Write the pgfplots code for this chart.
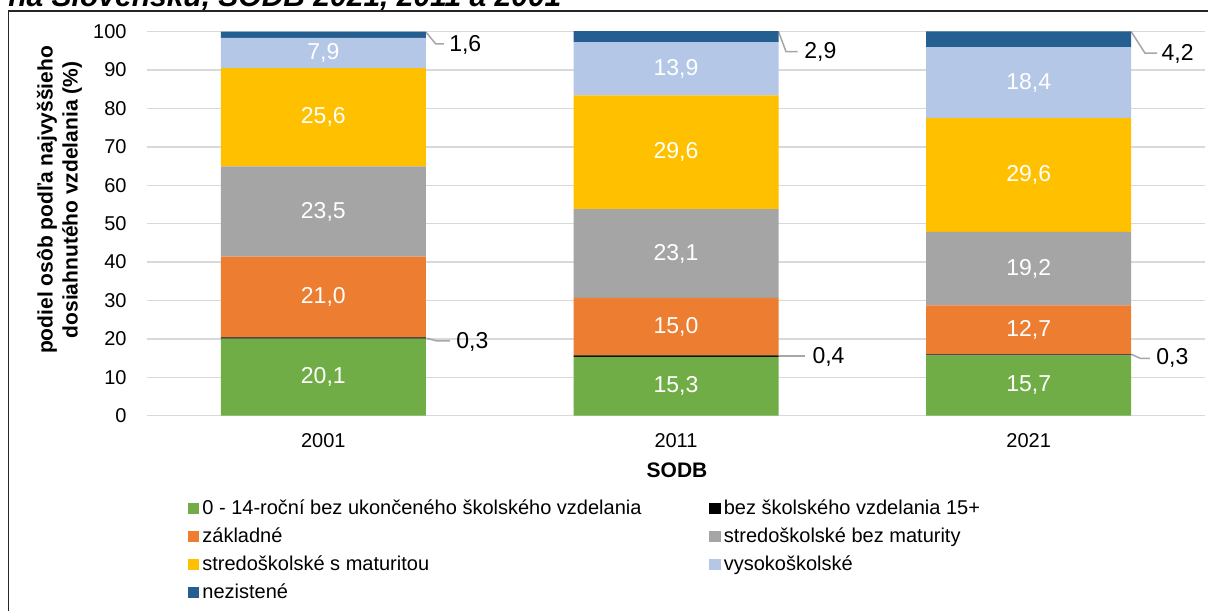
\documentclass[border=0pt]{standalone}
\usepackage{fontspec}
\setmainfont{Liberation Sans}
\usepackage{pgfplots}
\pgfplotsset{compat=1.18}
\definecolor{cgreen}{HTML}{70AD47}
\definecolor{corange}{HTML}{ED7D31}
\definecolor{cgray}{HTML}{A5A5A5}
\definecolor{cyellow}{HTML}{FFC000}
\definecolor{clblue}{HTML}{B4C7E7}
\definecolor{cdblue}{HTML}{255E91}
\definecolor{gridgray}{HTML}{D9D9D9}
\definecolor{leadgray}{HTML}{A6A6A6}
\begin{document}
\begin{tikzpicture}
\useasboundingbox (0,0) rectangle (604pt,305pt);
\clip (0,0) rectangle (604pt,305pt);
\fill[white] (0,0) rectangle (604pt,305pt);
\node[anchor=base west, inner sep=0pt, font=\bfseries\itshape\fontsize{15}{18}\selectfont] at (4pt,301.8pt) {na Slovensku, SODB 2021, 2011 a 2001};
\draw[line width=0.75pt, black!85] (4.15pt,-10pt) -- (4.15pt,299.5pt) -- (620pt,299.5pt);
\begin{axis}[
  at={(73.5pt,97.15pt)}, anchor=south west,
  scale only axis, width=529pt, height=192pt,
  ybar stacked, bar width=102.5pt,
  xmin=-0.5, xmax=2.5, ymin=0, ymax=100,
  xtick={0,1,2}, xticklabels={2001,2011,2021},
  ytick={0,10,...,100},
  ymajorgrids, grid style={line width=0.75pt, gridgray},
  axis line style={draw=none}, major tick length=0pt,
  tick label style={font=\fontsize{10}{12}\selectfont},
  /pgf/number format/assume math mode=true,
  yticklabel style={xshift=-6.7pt},
  xticklabel style={yshift=-5.6pt},
  ylabel={podiel osôb podľa najvyššieho\\dosiahnutého vzdelania (\%)},
  every axis y label/.style={at={(axis description cs:-0.0827,0.5617)}, rotate=90, anchor=center, align=center, font=\bfseries\fontsize{10.5}{12.5}\selectfont},
  xlabel={SODB},
  every axis x label/.style={at={(axis description cs:0.501,0)}, anchor=center, yshift=-27.2pt, font=\bfseries\fontsize{10.5}{12.5}\selectfont},
  legend columns=2,
  legend style={draw=none, fill=none, inner sep=0pt, outer sep=0pt, anchor=north west,
    at={(axis description cs:0.03875,-0.2117)},
    nodes={inner sep=0pt, text height=9pt, text depth=4.95pt, anchor=base west, font=\fontsize{10}{12}\selectfont},
    /tikz/every odd column/.style={column sep=1.6pt}},
  legend image code/.code={\fill[#1, draw=none] (0pt,0.3pt) rectangle (5.6pt,5.9pt);},
  labelled/.style={
    point meta=rawy,
    nodes near coords={\pgfmathprintnumber[fixed,fixed zerofill,precision=1,use comma]{\pgfplotspointmeta}},
    every node near coord/.append style={white, font=\fontsize{11.5}{13}\selectfont, anchor=center, inner sep=0pt}},
]
\addplot+[fill=cgreen, draw=none, labelled] coordinates {(0,20.1) (1,15.3) (2,15.7)};
\addlegendentry{\makebox[253.5pt][l]{0 - 14-roční bez ukončeného školského vzdelania}}
\addplot+[fill=black, draw=none] coordinates {(0,0.3) (1,0.4) (2,0.3)};
\addlegendentry{bez školského vzdelania 15+}
\addplot+[fill=corange, draw=none, labelled] coordinates {(0,21.0) (1,15.0) (2,12.7)};
\addlegendentry{základné}
\addplot+[fill=cgray, draw=none, labelled] coordinates {(0,23.5) (1,23.1) (2,19.2)};
\addlegendentry{stredoškolské bez maturity}
\addplot+[fill=cyellow, draw=none, labelled] coordinates {(0,25.6) (1,29.6) (2,29.6)};
\addlegendentry{stredoškolské s maturitou}
\addplot+[fill=clblue, draw=none, labelled] coordinates {(0,7.9) (1,13.9) (2,18.4)};
\addlegendentry{vysokoškolské}
\addplot+[fill=cdblue, draw=none] coordinates {(0,1.6) (1,2.9) (2,4.2)};
\addlegendentry{nezistené}
% callout labels
\draw[leadgray, line width=0.75pt] (axis cs:0.2908,99.9) -- (axis cs:0.319,96.8) -- (axis cs:0.342,96.8);
\node[anchor=west, inner sep=0pt, font=\fontsize{11.5}{13}\selectfont] at (axis cs:0.356,96.5) {1,6};
\draw[leadgray, line width=0.75pt] (axis cs:1.2908,100.0) -- (axis cs:1.312,94.8) -- (axis cs:1.345,94.8);
\node[anchor=west, inner sep=0pt, font=\fontsize{11.5}{13}\selectfont] at (axis cs:1.363,94.6) {2,9};
\draw[leadgray, line width=0.75pt] (axis cs:2.2908,100.0) -- (axis cs:2.330,94.4) -- (axis cs:2.364,94.4);
\node[anchor=west, inner sep=0pt, font=\fontsize{11.5}{13}\selectfont] at (axis cs:2.376,94.2) {4,2};
\draw[leadgray, line width=0.75pt] (axis cs:0.2928,20.16) -- (axis cs:0.321,19.5) -- (axis cs:0.359,19.5);
\node[anchor=west, inner sep=0pt, font=\fontsize{11.5}{13}\selectfont] at (axis cs:0.376,19.3) {0,3};
\draw[leadgray, line width=0.75pt] (axis cs:1.2908,15.6) -- (axis cs:1.366,15.6);
\node[anchor=west, inner sep=0pt, font=\fontsize{11.5}{13}\selectfont] at (axis cs:1.386,15.4) {0,4};
\draw[leadgray, line width=0.75pt] (axis cs:2.2908,16.0) -- (axis cs:2.316,14.95) -- (axis cs:2.344,14.95);
\node[anchor=west, inner sep=0pt, font=\fontsize{11.5}{13}\selectfont] at (axis cs:2.361,15.1) {0,3};
\end{axis}
\end{tikzpicture}
\end{document}
